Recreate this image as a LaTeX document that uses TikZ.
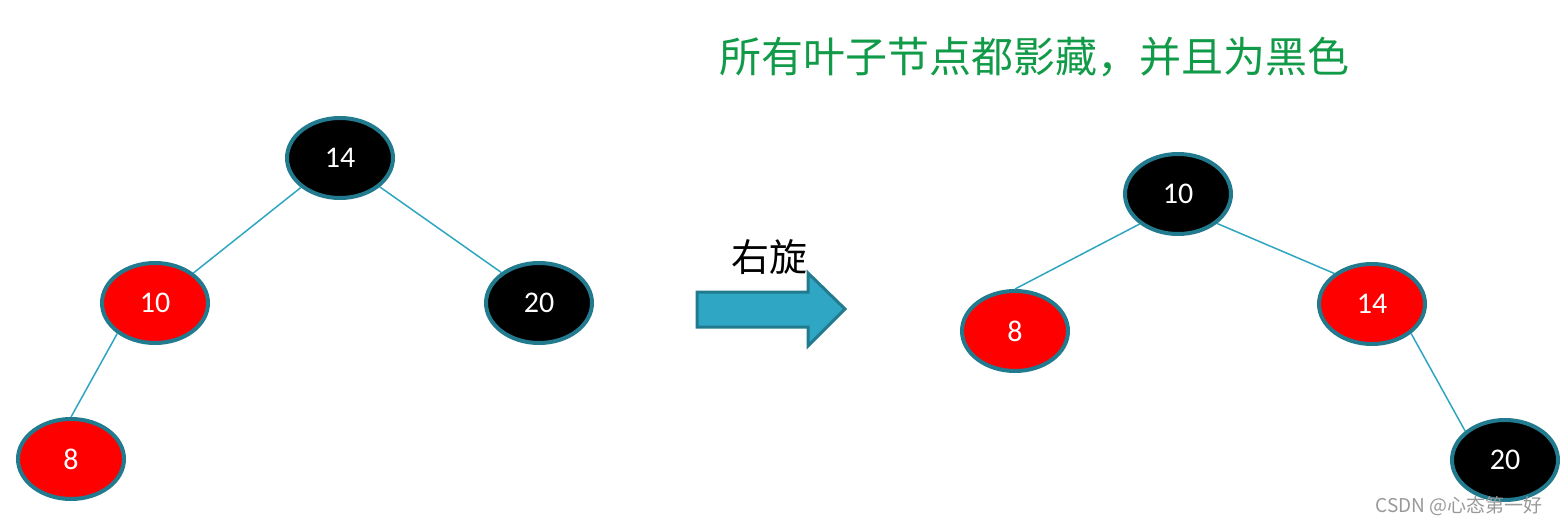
\documentclass[tikz,border=0pt]{standalone}
\usepackage{fontspec}
\setmainfont{Carlito}
\newfontfamily\cjk{Noto Sans CJK SC}
\usetikzlibrary{shapes.geometric}
\definecolor{rbred}{RGB}{255,0,0}
\definecolor{rim}{RGB}{33,122,141}
\definecolor{edgec}{RGB}{46,166,194}
\definecolor{arrowfill}{RGB}{47,166,195}
\definecolor{titlegreen}{RGB}{17,154,72}
\tikzset{
  rb/.style={ellipse, draw=rim, line width=2pt, minimum width=53pt, minimum height=40pt, inner sep=0pt, text=white, font=\fontsize{15}{17}\selectfont},
  rednode/.style={rb, fill=rbred},
  blacknode/.style={rb, fill=black},
  link/.style={draw=edgec, line width=0.75pt},
}
\begin{document}
\begin{tikzpicture}[x=0.5pt,y=-0.5pt]
\useasboundingbox (0,0) rectangle (1560,525);
% left tree
\node[blacknode] (a14) at (340,158) {14};
\node[rednode] (a10) at (155,303) {10};
\node[blacknode] (a20) at (539,303) {20};
\node[rednode] (a8) at (71,459) {8};
\draw[link] (a14.217) -- (a10.38);
\draw[link] (a14.-36) -- (a20.141);
\draw[link] (a10.219) -- (a8.north);
% right tree
\node[blacknode] (b10) at (1178,194) {10};
\node[rednode] (b8) at (1015,331) {8};
\node[rednode] (b14) at (1372,304) {14};
\node[blacknode] (b20) at (1505,460) {20};
\draw[link] (b10.218) -- (b8.north);
\draw[link] (b10.-37) -- (b14.141);
\draw[link] (b14.-37) -- (b20.144);
% arrow
\draw[draw=rim, fill=arrowfill, line width=1.5pt, line join=miter]
  (697,292) -- (808,292) -- (808,273) -- (845,309) -- (808,346) -- (808,327) -- (697,327) -- cycle;
\node[font=\cjk\fontsize{19}{22}\selectfont, text=black] (lbl) at (769,257) {右旋};
% title
\node[font=\cjk\fontsize{21}{24}\selectfont, text=titlegreen] (title) at (1034,57) {所有叶子节点都影藏，并且为黑色};
% watermark
\node[font=\cjk\fontsize{9.5}{11}\selectfont, text=gray!80] (wm) at (1459,506) {CSDN @心态第一好};
\end{tikzpicture}
\end{document}
